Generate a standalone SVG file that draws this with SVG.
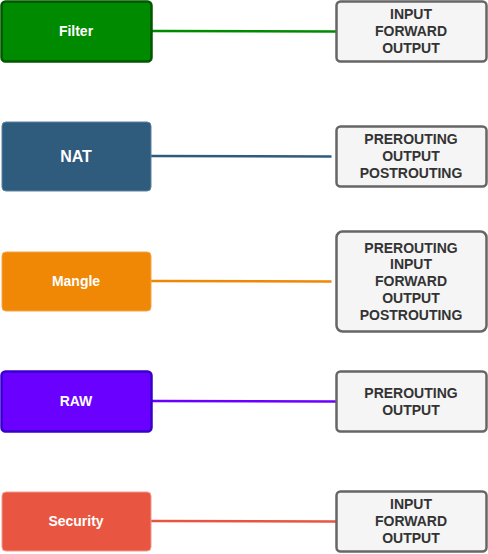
<svg xmlns="http://www.w3.org/2000/svg" width="488" height="554" viewBox="0 0 488 554">
<style>
.t{font-family:"Liberation Sans",Arial,sans-serif;font-weight:bold;text-anchor:middle;dominant-baseline:central}
.w{fill:#ffffff;font-size:14px}
.c{fill:#333333;font-size:14px}
.box{fill:#f5f5f5;stroke:#666666;stroke-width:2.5}
.ln{fill:none;stroke-width:2.5}
</style>
<rect width="488" height="554" fill="#ffffff"/>
<g id="connectors">
<path class="ln" d="M152 31 L336 31.5" stroke="#008a00"/>
<path class="ln" d="M151 156 L331.5 156.5" stroke="#2f5b7c"/>
<path class="ln" d="M151 281 L331.5 281.5" stroke="#f08705"/>
<path class="ln" d="M152 401 L336 401.5" stroke="#6a00ff"/>
<path class="ln" d="M151 521 L336 521.5" stroke="#e85642"/>
</g>
<g id="filter">
<rect x="1.5" y="1.5" width="150" height="60" rx="4" fill="#008a00" stroke="#005700" stroke-width="2.5"/>
<text class="t w" x="76" y="31">Filter</text>
</g>
<g id="filter-chains">
<rect class="box" x="336.5" y="1.5" width="150" height="60" rx="4"/>
<text class="t c" x="411" y="14">INPUT</text>
<text class="t c" x="411" y="31">FORWARD</text>
<text class="t c" x="411" y="48">OUTPUT</text>
</g>
<g id="nat">
<rect x="2" y="122" width="149" height="69" rx="4" fill="#2f5b7c" stroke="#5c83a3" stroke-width="1"/>
<text class="t w" x="76" y="156" style="font-size:16px">NAT</text>
</g>
<g id="nat-chains">
<rect class="box" x="336.5" y="126.5" width="150" height="60" rx="4"/>
<text class="t c" x="411" y="139">PREROUTING</text>
<text class="t c" x="411" y="156">OUTPUT</text>
<text class="t c" x="411" y="173">POSTROUTING</text>
</g>
<g id="mangle">
<rect x="2" y="252" width="149" height="59" rx="4" fill="#f08705" stroke="#f5a447" stroke-width="1"/>
<text class="t w" x="76" y="281">Mangle</text>
</g>
<g id="mangle-chains">
<rect class="box" x="336.5" y="231.5" width="150" height="100" rx="6"/>
<text class="t c" x="411" y="248">PREROUTING</text>
<text class="t c" x="411" y="264">INPUT</text>
<text class="t c" x="411" y="281">FORWARD</text>
<text class="t c" x="411" y="298">OUTPUT</text>
<text class="t c" x="411" y="315">POSTROUTING</text>
</g>
<g id="raw">
<rect x="1.5" y="371.5" width="150" height="60" rx="4" fill="#6a00ff" stroke="#3700cc" stroke-width="2.5"/>
<text class="t w" x="76" y="401">RAW</text>
</g>
<g id="raw-chains">
<rect class="box" x="336.5" y="371.5" width="150" height="60" rx="4"/>
<text class="t c" x="411" y="393">PREROUTING</text>
<text class="t c" x="411" y="410">OUTPUT</text>
</g>
<g id="security">
<rect x="2" y="492" width="149" height="59" rx="4" fill="#e85642" stroke="#f09a8e" stroke-width="1"/>
<text class="t w" x="76" y="521">Security</text>
</g>
<g id="security-chains">
<rect class="box" x="336.5" y="491.5" width="150" height="60" rx="4"/>
<text class="t c" x="411" y="504">INPUT</text>
<text class="t c" x="411" y="521">FORWARD</text>
<text class="t c" x="411" y="538">OUTPUT</text>
</g>
</svg>
